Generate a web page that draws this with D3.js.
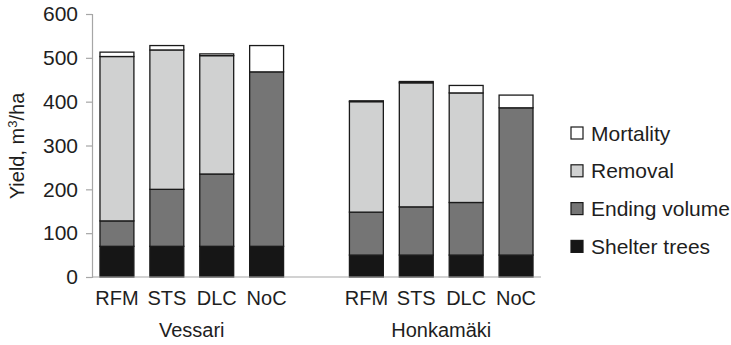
<!DOCTYPE html>
<html>
<head>
<meta charset="utf-8">
<script src="https://cdn.jsdelivr.net/npm/d3@7/dist/d3.min.js"></script>
<style>
  html, body { margin: 0; padding: 0; background: #fff; }
  svg { display: block; font-family: "Liberation Sans", Arial, Helvetica, sans-serif; }
</style>
</head>
<body>
<svg id="chart" width="731" height="345"></svg>
<script>
// Stand yield by site and treatment (m³/ha)
const sites = ["Vessari", "Honkamäki"];
const treatments = ["RFM", "STS", "DLC", "NoC"];
const components = ["Shelter trees", "Ending volume", "Removal", "Mortality"];
const componentColors = ["#161616", "#757575", "#d0d1d1", "#ffffff"];

const shelterTrees = [70, 70, 70, 70, 50, 50, 50, 50];
const endingVolume = [58, 130, 165, 398, 98, 110, 120, 336];
const removal      = [375, 318, 270, 0, 252, 283, 250, 0];
const mortality    = [10, 10, 4, 60, 2, 3, 17, 29];

const yTicks = [0, 100, 200, 300, 400, 500, 600];

// rows: one per site × treatment
const rows = [];
sites.forEach((site, si) => {
  treatments.forEach((t, ti) => {
    const i = si * treatments.length + ti;
    rows.push({
      key: site + "|" + t, site, treatment: t,
      "Shelter trees": shelterTrees[i],
      "Ending volume": endingVolume[i],
      "Removal": removal[i],
      "Mortality": mortality[i]
    });
  });
});

// slot order with an empty slot separating the two sites
const slots = [];
sites.forEach((site, si) => {
  if (si > 0) slots.push("gap" + si);
  treatments.forEach(t => slots.push(site + "|" + t));
});

const svg = d3.select("#chart");
const plotLeft = 92, plotRight = 541, plotTop = 14, plotBottom = 277;

const x = d3.scaleBand().domain(slots).range([plotLeft, plotRight])
  .paddingInner(0.32).paddingOuter(0.16);
const y = d3.scaleLinear().domain([0, 600]).range([plotBottom, plotTop]);

const stack = d3.stack().keys(components);
const series = stack(rows);
const color = d3.scaleOrdinal().domain(components).range(componentColors);

// stacked bars
svg.append("g").selectAll("g")
  .data(series)
  .join("g")
    .attr("fill", d => color(d.key))
  .selectAll("rect")
  .data(d => d.filter(p => p[1] - p[0] > 0))
  .join("rect")
    .attr("x", d => x(d.data.key))
    .attr("width", x.bandwidth())
    .attr("y", d => y(d[1]))
    .attr("height", d => y(d[0]) - y(d[1]))
    .attr("stroke", "#1a1a1a")
    .attr("stroke-width", 1.3);

// y axis
const yAxis = svg.append("g")
  .attr("transform", `translate(${plotLeft},0)`)
  .call(d3.axisLeft(y).tickValues(yTicks).tickSize(6).tickPadding(8).tickFormat(d3.format("d")));
yAxis.select(".domain").attr("stroke", "#a6a6a6").attr("stroke-width", 1.2);
yAxis.selectAll(".tick line").attr("stroke", "#a6a6a6").attr("stroke-width", 1.2);
yAxis.selectAll(".tick text").attr("fill", "#1e1e1e").style("font-size", "21px");

// x baseline
svg.append("line")
  .attr("x1", plotLeft).attr("x2", plotRight)
  .attr("y1", y(0)).attr("y2", y(0))
  .attr("stroke", "#a6a6a6").attr("stroke-width", 1.2);

// treatment labels
svg.append("g").selectAll("text")
  .data(rows)
  .join("text")
    .attr("x", d => x(d.key) + x.bandwidth() / 2)
    .attr("y", 305)
    .attr("text-anchor", "middle")
    .attr("fill", "#1e1e1e")
    .style("font-size", "20px")
    .text(d => d.treatment);

// site labels
svg.append("g").selectAll("text")
  .data(sites)
  .join("text")
    .attr("x", s => {
      const a = x(s + "|" + treatments[0]);
      const b = x(s + "|" + treatments[treatments.length - 1]) + x.bandwidth();
      return (a + b) / 2;
    })
    .attr("y", 337)
    .attr("text-anchor", "middle")
    .attr("fill", "#1e1e1e")
    .style("font-size", "20px")
    .text(s => s);

// y axis title
const title = svg.append("text")
  .attr("transform", "translate(24,146) rotate(-90)")
  .attr("text-anchor", "middle")
  .attr("fill", "#1e1e1e")
  .style("font-size", "20px");
title.append("tspan").text("Yield, m");
title.append("tspan").attr("dy", -7).style("font-size", "13px").text("3");
title.append("tspan").attr("dy", 7).text("/ha");

// legend, top entry is the top of the stack
const legendItems = components.slice().reverse();
const legend = svg.append("g").selectAll("g")
  .data(legendItems)
  .join("g")
    .attr("transform", (d, i) => `translate(571,${133 + i * 37.8})`);
legend.append("rect")
  .attr("x", 0).attr("y", -6)
  .attr("width", 12).attr("height", 12)
  .attr("fill", d => color(d))
  .attr("stroke", "#1a1a1a").attr("stroke-width", 1.2);
legend.append("text")
  .attr("x", 20).attr("y", 7.5)
  .attr("fill", "#1e1e1e")
  .style("font-size", "21px")
  .text(d => d);
</script>
</body>
</html>
